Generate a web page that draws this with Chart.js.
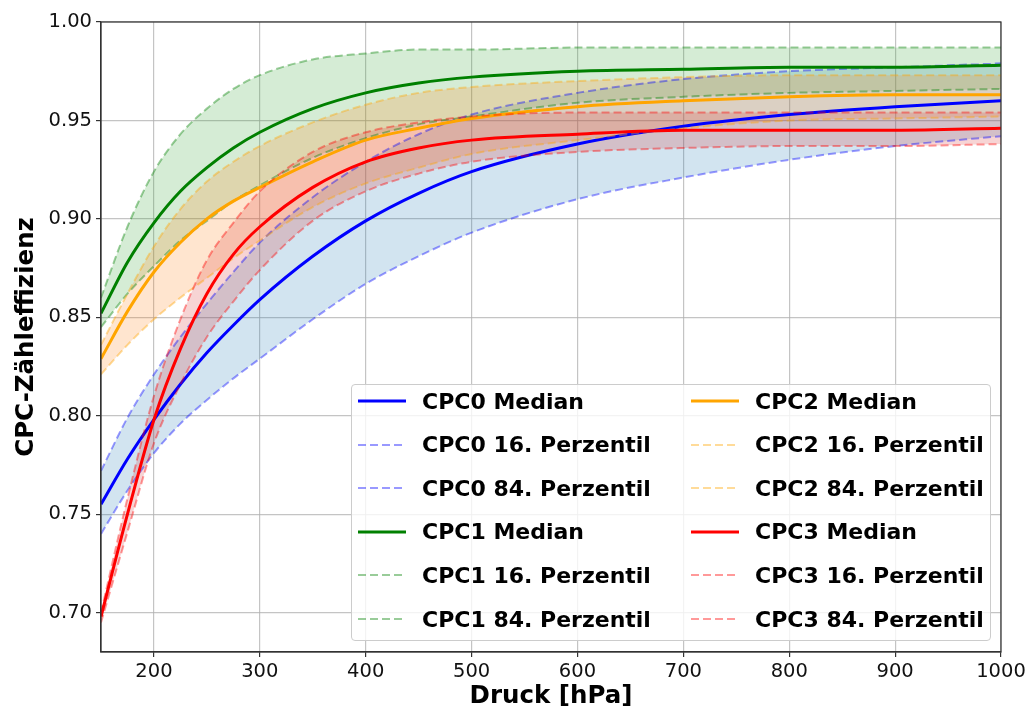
<!DOCTYPE html>
<html>
<head>
<meta charset="utf-8">
<script src="https://cdn.jsdelivr.net/npm/chart.js@4.4.0/dist/chart.umd.min.js"></script>
<style>
  body { margin: 0; background: #fff; }
  #wrap { position: relative; width: 1032px; height: 713px; }
  #legend {
    position: absolute; left: 351px; top: 384px; width: 640px; height: 257px;
    box-sizing: border-box; background: rgba(255,255,255,0.8);
    border: 1px solid #cccccc; border-radius: 4px;
    font: bold 22px "DejaVu Sans", sans-serif; color: #000;
  }
  .item { position: absolute; height: 30px; display: flex; align-items: center; white-space: nowrap; }
  .item svg { margin-right: 16px; }
</style>
</head>
<body>
<div id="wrap">
  <canvas id="chart" width="1032" height="713"></canvas>
  <div id="legend"></div>
</div>
<script>
// Pressure grid (hPa) the curves were read at
const pressure = [150, 175, 200, 225, 250, 275, 300, 350, 400, 450, 500, 600, 700, 800, 900, 1000];

const cpc0Median = [0.755, 0.778, 0.798, 0.816, 0.832, 0.846, 0.859, 0.881, 0.899, 0.913, 0.924, 0.938, 0.947, 0.953, 0.957, 0.960];
const cpc0P16    = [0.740, 0.762, 0.781, 0.796, 0.808, 0.819, 0.829, 0.849, 0.867, 0.881, 0.893, 0.910, 0.921, 0.930, 0.937, 0.942];
const cpc0P84    = [0.772, 0.799, 0.821, 0.840, 0.857, 0.873, 0.888, 0.911, 0.929, 0.943, 0.953, 0.964, 0.971, 0.975, 0.977, 0.979];

const cpc1Median = [0.852, 0.878, 0.898, 0.914, 0.926, 0.936, 0.944, 0.956, 0.964, 0.969, 0.972, 0.975, 0.976, 0.977, 0.977, 0.978];
const cpc1P16    = [0.845, 0.862, 0.876, 0.889, 0.899, 0.909, 0.917, 0.931, 0.941, 0.948, 0.952, 0.959, 0.962, 0.964, 0.965, 0.966];
const cpc1P84    = [0.860, 0.896, 0.924, 0.943, 0.956, 0.966, 0.973, 0.981, 0.984, 0.986, 0.986, 0.987, 0.987, 0.987, 0.987, 0.987];

const cpc2Median = [0.829, 0.853, 0.873, 0.888, 0.900, 0.909, 0.916, 0.929, 0.940, 0.946, 0.951, 0.957, 0.960, 0.962, 0.963, 0.963];
const cpc2P16    = [0.821, 0.836, 0.849, 0.860, 0.870, 0.880, 0.889, 0.906, 0.918, 0.926, 0.933, 0.940, 0.946, 0.950, 0.951, 0.952];
const cpc2P84    = [0.836, 0.862, 0.886, 0.905, 0.919, 0.929, 0.937, 0.949, 0.958, 0.964, 0.967, 0.970, 0.972, 0.973, 0.973, 0.973];

const cpc3Median = [0.698, 0.750, 0.798, 0.834, 0.862, 0.882, 0.896, 0.916, 0.929, 0.936, 0.940, 0.943, 0.945, 0.945, 0.945, 0.946];
const cpc3P16    = [0.695, 0.741, 0.786, 0.816, 0.840, 0.858, 0.874, 0.899, 0.914, 0.923, 0.929, 0.934, 0.936, 0.937, 0.937, 0.938];
const cpc3P84    = [0.700, 0.758, 0.810, 0.849, 0.879, 0.898, 0.914, 0.934, 0.944, 0.949, 0.952, 0.954, 0.954, 0.954, 0.954, 0.954];

const xTicks = [200, 300, 400, 500, 600, 700, 800, 900, 1000];
const yTicks = [0.70, 0.75, 0.80, 0.85, 0.90, 0.95, 1.00];

const cpcNames = ['CPC0', 'CPC1', 'CPC2', 'CPC3'];
const lineColors = ['0,0,255', '0,128,0', '255,165,0', '255,0,0'];
const bandColors = ['rgba(31,119,180,0.2)', 'rgba(44,160,44,0.2)', 'rgba(255,127,14,0.2)', 'rgba(214,39,40,0.2)'];
const series = [
    [cpc0Median, cpc0P16, cpc0P84],
    [cpc1Median, cpc1P16, cpc1P84],
    [cpc2Median, cpc2P16, cpc2P84],
    [cpc3Median, cpc3P16, cpc3P84]
];
const kinds = ['Median', '16. Perzentil', '84. Perzentil'];
const dash = [8, 4];

function toPoints(values) {
    return values.map((v, i) => ({ x: pressure[i], y: v }));
}

// median, 16th, 84th for every CPC; the 84th fills down to the 16th
const datasets = [];
series.forEach((group, k) => {
    group.forEach((values, j) => {
        const idx = datasets.length;
        const isMedian = j === 0;
        datasets.push({
            label: cpcNames[k] + ' ' + kinds[j],
            data: toPoints(values),
            borderColor: isMedian ? 'rgb(' + lineColors[k] + ')' : 'rgba(' + lineColors[k] + ',0.4)',
            borderWidth: isMedian ? 3 : 2,
            borderDash: isMedian ? [] : dash,
            backgroundColor: bandColors[k],
            fill: j === 2 ? { target: '-1', above: bandColors[k], below: bandColors[k] } : false,
            order: 100 - idx
        });
    });
});

// axes box on all four sides
const frame = {
    id: 'frame',
    afterDatasetsDraw(chart) {
        const { ctx, chartArea: a } = chart;
        ctx.save();
        ctx.strokeStyle = '#333';
        ctx.lineWidth = 1.2;
        ctx.strokeRect(a.left, a.top, a.right - a.left, a.bottom - a.top);
        ctx.restore();
    }
};

const tickFont = { family: 'DejaVu Sans', size: 19.5 };
const titleFont = { family: 'DejaVu Sans', size: 24.5, weight: 'bold' };
const gridOpts = { color: 'rgba(176,176,176,0.75)', lineWidth: 1.2, tickColor: '#333', tickLength: 5, tickWidth: 1.2 };

new Chart(document.getElementById('chart').getContext('2d'), {
    type: 'line',
    data: { datasets: datasets },
    options: {
        responsive: false,
        animation: false,
        devicePixelRatio: 1,
        layout: { padding: { left: 0, right: 31, top: 22, bottom: 0 } },
        elements: {
            point: { radius: 0, hoverRadius: 0 },
            line: { cubicInterpolationMode: 'monotone' }
        },
        plugins: {
            legend: { display: false },
            tooltip: { enabled: false },
            filler: { drawTime: 'beforeDatasetsDraw' }
        },
        scales: {
            x: {
                type: 'linear',
                min: 150,
                max: 1000,
                afterBuildTicks: s => { s.ticks = xTicks.map(v => ({ value: v })); },
                afterFit: s => { s.height = 61; },
                ticks: { font: tickFont, color: '#111', padding: 3, maxRotation: 0, callback: v => String(v) },
                grid: gridOpts,
                border: { color: '#333', width: 1.2 },
                title: { display: true, text: 'Druck [hPa]', font: titleFont, color: '#000', padding: { top: 0, bottom: 2 } }
            },
            y: {
                min: 0.68,
                max: 1.0,
                afterBuildTicks: s => { s.ticks = yTicks.map(v => ({ value: v })); },
                afterFit: s => { s.width = 101; },
                ticks: { font: tickFont, color: '#111', padding: 4, callback: v => v.toFixed(2) },
                grid: gridOpts,
                border: { color: '#333', width: 1.2 },
                title: { display: true, text: 'CPC-Zähleffizienz', font: titleFont, color: '#000', padding: { top: 12, bottom: 0 } }
            }
        }
    },
    plugins: [frame]
});

// two-column legend, filled column by column
const legend = document.getElementById('legend');
const rowTop = 17, rowStep = 43.6;
datasets.forEach((ds, i) => {
    const k = Math.floor(i / 3), j = i % 3;
    const col = k < 2 ? 0 : 1;
    const row = (k % 2) * 3 + j;
    const item = document.createElement('div');
    item.className = 'item';
    item.style.left = (col === 0 ? 6 : 339) + 'px';
    item.style.top = (rowTop + row * rowStep - 1 - 15) + 'px';
    const da = ds.borderDash.length ? ' stroke-dasharray="' + ds.borderDash.join(' ') + '"' : '';
    item.innerHTML = '<svg width="48" height="10"><line x1="0" y1="5" x2="48" y2="5" stroke="' + ds.borderColor +
        '" stroke-width="' + ds.borderWidth + '"' + da + '/></svg><span>' + ds.label + '</span>';
    legend.appendChild(item);
});
</script>
</body>
</html>
